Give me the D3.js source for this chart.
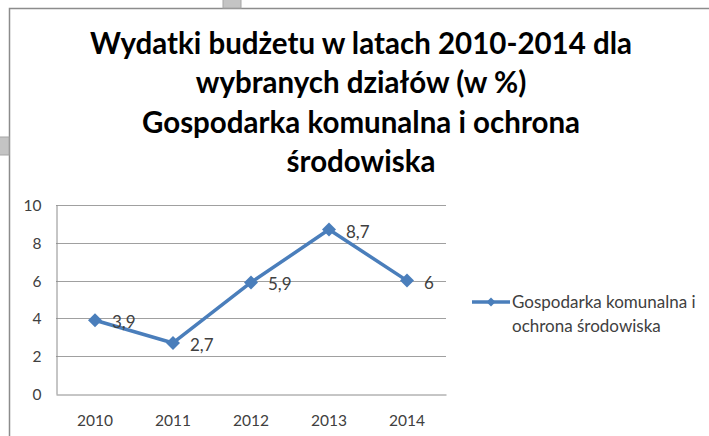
<!DOCTYPE html>
<html>
<head>
<meta charset="utf-8">
<script src="https://cdn.jsdelivr.net/npm/d3@7"></script>
<style>
  html, body { margin: 0; padding: 0; background: #fff; }
  svg { display: block; font-family: Lato, "Open Sans", sans-serif; }
</style>
</head>
<body>
<svg id="chart" width="709" height="436"></svg>
<script>
const titleLines = [
  'Wydatki budżetu w latach 2010-2014 dla',
  'wybranych działów (w %)',
  'Gospodarka komunalna i ochrona',
  'środowiska'
];
const years = ['2010', '2011', '2012', '2013', '2014'];
const values = [3.9, 2.7, 5.9, 8.7, 6];
const yTicks = [0, 2, 4, 6, 8, 10];
const legendLines = ['Gospodarka komunalna i', 'ochrona środowiska'];

const PLOT = { left: 56, right: 446, top: 205, bottom: 394 };
const SERIES_COLOR = '#4a7ebb';

const svg = d3.select('#chart');
const plFormat = d3.formatLocale({ decimal: ',', thousands: ' ', grouping: [3], currency: ['', ' zł'] }).format('~g');

// chart frame (window is cropped, so the box runs off the right and bottom)
svg.append('rect')
  .attr('x', 9.5).attr('y', 8.5)
  .attr('width', 760).attr('height', 480)
  .attr('fill', '#fff')
  .attr('stroke', '#8c8c8c')
  .attr('stroke-width', 1.5);

// resize handles
svg.append('rect').attr('x', 223).attr('y', -1).attr('width', 18).attr('height', 9)
  .attr('fill', '#c4c4c4').attr('stroke', '#a6a6a6');
svg.append('rect').attr('x', -1).attr('y', 137).attr('width', 10).attr('height', 18)
  .attr('fill', '#c4c4c4').attr('stroke', '#a6a6a6');

// title
svg.append('text')
  .attr('text-anchor', 'middle')
  .attr('font-weight', 'bold')
  .attr('font-size', 29.5)
  .attr('fill', '#000')
  .selectAll('tspan')
  .data(titleLines)
  .join('tspan')
  .attr('x', 361)
  .attr('y', (d, i) => 54 + i * 39.3)
  .text((d) => d);

const x = d3.scaleBand().domain(years).range([PLOT.left, PLOT.right]);
const y = d3.scaleLinear().domain([0, 10]).range([PLOT.bottom, PLOT.top]);

// gridlines
svg.append('g')
  .selectAll('line')
  .data(yTicks.filter((t) => t > 0))
  .join('line')
  .attr('x1', PLOT.left).attr('x2', PLOT.right)
  .attr('y1', (d) => Math.round(y(d)) + 0.5).attr('y2', (d) => Math.round(y(d)) + 0.5)
  .attr('stroke', '#a0a0a0');

// axes
const yAxisG = svg.append('g')
  .attr('transform', `translate(${PLOT.left + 0.5},0)`)
  .call(d3.axisLeft(y).tickValues(yTicks).tickSize(0).tickPadding(15));
const xAxisG = svg.append('g')
  .attr('transform', `translate(0,${Math.round(PLOT.bottom) + 0.5})`)
  .call(d3.axisBottom(x).tickSize(0).tickPadding(20));

[yAxisG, xAxisG].forEach((g) => {
  g.select('.domain').attr('stroke', '#8c8c8c').attr('stroke-width', 1);
  g.selectAll('text')
    .attr('font-family', 'Lato, sans-serif')
    .attr('font-size', 15.5)
    .attr('fill', '#404040');
});
yAxisG.selectAll('text').attr('dy', '0.35em');

// series line
const cx = (d, i) => x(years[i]) + x.bandwidth() / 2;
const line = d3.line().x(cx).y((d) => y(d));

svg.append('path')
  .datum(values)
  .attr('fill', 'none')
  .attr('stroke', SERIES_COLOR)
  .attr('stroke-width', 3.5)
  .attr('stroke-linejoin', 'round')
  .attr('d', line);

const diamond = d3.symbol().type(d3.symbolSquare).size(98);

svg.append('g')
  .selectAll('path')
  .data(values)
  .join('path')
  .attr('d', diamond)
  .attr('transform', (d, i) => `translate(${cx(d, i)},${y(d)}) rotate(45)`)
  .attr('fill', SERIES_COLOR);

// data labels
svg.append('g')
  .selectAll('text')
  .data(values)
  .join('text')
  .attr('x', (d, i) => cx(d, i) + 17)
  .attr('y', (d) => y(d) + 8)
  .attr('font-size', 17)
  .attr('fill', '#404040')
  .text((d) => plFormat(d));

// legend
const legend = svg.append('g').attr('transform', 'translate(472,302)');
legend.append('line')
  .attr('x1', 0).attr('x2', 38)
  .attr('stroke', SERIES_COLOR).attr('stroke-width', 3.5);
legend.append('path')
  .attr('d', d3.symbol().type(d3.symbolSquare).size(40))
  .attr('transform', 'translate(19,0) rotate(45)')
  .attr('fill', SERIES_COLOR);
legend.append('text')
  .attr('font-size', 17)
  .attr('fill', '#404040')
  .selectAll('tspan')
  .data(legendLines)
  .join('tspan')
  .attr('x', 40)
  .attr('y', (d, i) => 6 + i * 24)
  .text((d) => d);
</script>
</body>
</html>
